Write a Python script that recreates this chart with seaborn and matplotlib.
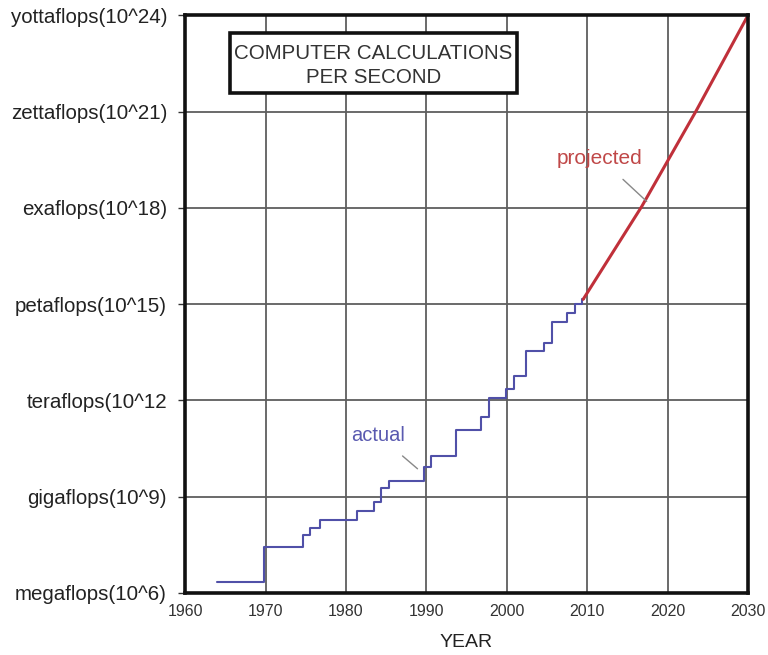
import matplotlib
matplotlib.use("Agg")
import matplotlib.pyplot as plt
import seaborn as sns
import numpy as np
from matplotlib.patches import Rectangle

# actual computer speed, step line (year, log10 of flops)
actual_year = [1964, 1969.8, 1974.6, 1975.5, 1976.8, 1981.4, 1983.5, 1984.4, 1985.4,
               1989.7, 1990.6, 1993.7, 1996.8, 1997.8, 1999.9, 2000.9, 2002.4, 2004.6,
               2005.6, 2007.5, 2008.5, 2009.3, 2009.6]
actual_exp = [6.33, 7.43, 7.8, 8.01, 8.27, 8.54, 8.85, 9.28, 9.48,
              9.91, 10.26, 11.07, 11.47, 12.07, 12.34, 12.77, 13.53, 13.8,
              14.45, 14.73, 15.0, 15.15, 15.15]

# projected speed
proj_year = [2009.5, 2016.8, 2023.5, 2030]
proj_exp = [15.15, 18.05, 21.0, 24.0]

ytick_exp = [6, 9, 12, 15, 18, 21, 24]
ytick_labels = ["megaflops(10^6)", "gigaflops(10^9)", "teraflops(10^12",
                "petaflops(10^15)", "exaflops(10^18)", "zettaflops(10^21)",
                "yottaflops(10^24)"]
xticks = [1960, 1970, 1980, 1990, 2000, 2010, 2020, 2030]

sns.set_style("white")
plt.rcParams["font.family"] = ["Liberation Sans", "DejaVu Sans"]

fig = plt.figure(figsize=(7.68, 6.55), dpi=100)
ax = fig.add_axes([0.241, 0.0947, 0.733, 0.882])
ax.set_yscale("log")

blue = "#5050a8"
red = "#c0303a"

sns.lineplot(x=actual_year, y=[10.0 ** e for e in actual_exp], drawstyle="steps-post",
             color=blue, lw=1.5, ax=ax)
sns.lineplot(x=proj_year, y=[10.0 ** e for e in proj_exp], color=red, lw=2.2, ax=ax)

ax.set_xlim(1960, 2030)
ax.set_ylim(1e6, 1e24)
ax.set_xticks(xticks)
ax.set_xticklabels([str(x) for x in xticks], fontsize=11.5, color="#333333")
ax.set_yticks([10.0 ** e for e in ytick_exp])
ax.set_yticklabels(ytick_labels, fontsize=14.8, color="#222222")
ax.yaxis.set_minor_locator(matplotlib.ticker.NullLocator())
ax.tick_params(axis="x", length=0, pad=8)
ax.tick_params(axis="y", length=5, width=1, color="#333333", pad=8, direction="out", left=True)
ax.set_xlabel("YEAR", fontsize=14, color="#222222", labelpad=11)

ax.grid(True, which="major", color="#5e5e5e", lw=1.3)
ax.set_axisbelow(True)
for s in ax.spines.values():
    s.set_visible(True)
    s.set_color("#111111")
    s.set_linewidth(2.6)

# title box
ax.add_patch(Rectangle((0.08, 0.865), 0.51, 0.104, transform=ax.transAxes,
                       facecolor="white", edgecolor="#111111", lw=2.6, zorder=5))
ax.text(0.335, 0.913, "COMPUTER CALCULATIONS\nPER SECOND", transform=ax.transAxes,
        ha="center", va="center", fontsize=14.8, color="#333333", linespacing=1.35, zorder=6)

ax.annotate("projected", xy=(2017.4, 10 ** 18.2), xytext=(2011.6, 10 ** 19.55),
            ha="center", va="center", fontsize=15, color="#c04848",
            arrowprops=dict(arrowstyle="-", color="#888888", lw=1,
                            shrinkA=9, shrinkB=0))
ax.annotate("actual", xy=(1988.9, 10 ** 9.87), xytext=(1984.0, 10 ** 10.92),
            ha="center", va="center", fontsize=14.5, color="#5a5ab0",
            arrowprops=dict(arrowstyle="-", color="#888888", lw=1,
                            shrinkA=9, shrinkB=0))

fig.savefig("out.png", dpi=100)
